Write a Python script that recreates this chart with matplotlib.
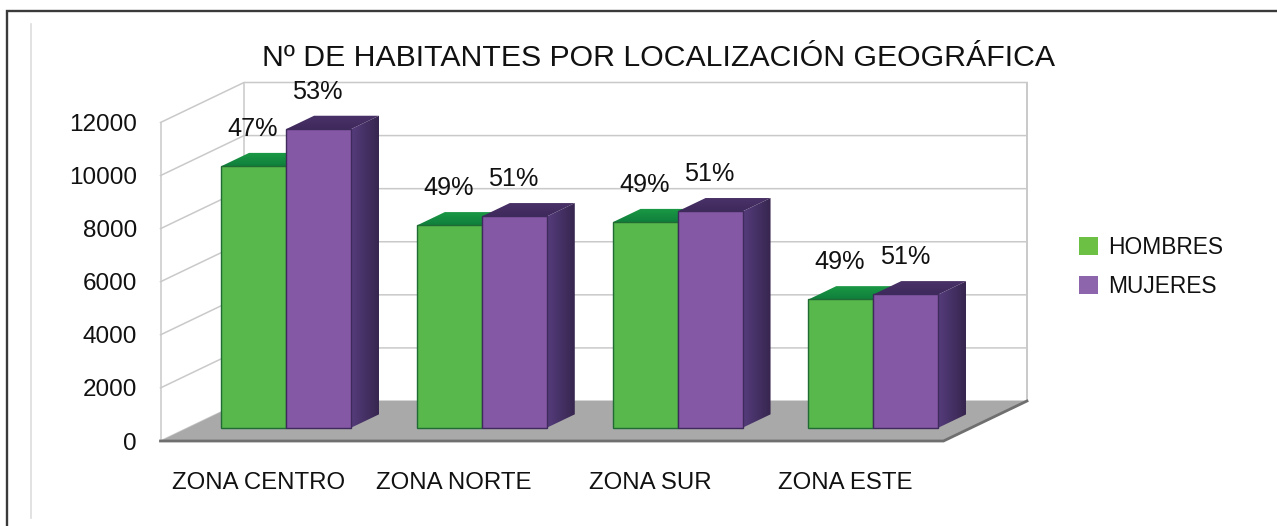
import numpy as np
import matplotlib
matplotlib.use("Agg")
import matplotlib.pyplot as plt
from matplotlib.colors import to_rgb
from matplotlib.lines import Line2D
from matplotlib.patches import Polygon

plt.rcParams['font.family'] = ['Liberation Sans', 'DejaVu Sans']

zonas = ["ZONA CENTRO", "ZONA NORTE", "ZONA SUR", "ZONA ESTE"]
hombres = [9850, 7620, 7740, 4830]
mujeres = [11250, 7960, 8150, 5020]
pct_hombres = ["47%", "49%", "49%", "49%"]
pct_mujeres = ["53%", "51%", "51%", "51%"]
yticks = [0, 2000, 4000, 6000, 8000, 10000, 12000]

W, H = 1277, 526
fig = plt.figure(figsize=(W / 100, H / 100), dpi=100)
# front plane of the fake 3d box, in pixels
left, right, y0, y12 = 160.5, 943.5, 441, 122.5
ax = fig.add_axes([left / W, 1 - y0 / H, (right - left) / W, (y0 - y12) / H])
ax.patch.set_alpha(0)
for s in ax.spines.values():
    s.set_visible(False)

# depth of the box in data units
DX = 83.5 / ((right - left) / 4)
DY = 40 / ((y0 - y12) / 12000)
BAR_W = 65 / ((right - left) / 4)
GRID = "#c9c9c9"

# walls and grid
for v in yticks:
    ax.plot([0, DX, 4 + DX], [v, v + DY, v + DY], color=GRID, lw=1.1, clip_on=False, zorder=1)
ax.plot([0, 0], [0, 12000], color=GRID, lw=1.1, clip_on=False, zorder=1)
ax.plot([DX, DX], [DY, 12000 + DY], color=GRID, lw=1.1, clip_on=False, zorder=1)
ax.plot([4 + DX, 4 + DX], [DY, 12000 + DY], color=GRID, lw=1.4, clip_on=False, zorder=1)

# floor
ax.fill([0, 4, 4 + DX, DX], [0, 0, DY, DY], color="#a9a9a9", lw=0, clip_on=False, zorder=2)
ax.plot([0, 4, 4 + DX], [0, 0, DY], color="#6f6f6f", lw=2, clip_on=False, zorder=2,
        solid_joinstyle="miter")


def gradient_face(xs, ys, c1, c2, vertical, z):
    # polygon filled with a two colour gradient, drawn as a clipped image
    t = np.linspace(0, 1, 32)[:, None]
    img = np.array(to_rgb(c1)) * (1 - t) + np.array(to_rgb(c2)) * t
    img = img[:, None, :] if vertical else img[None, :, :]
    im = ax.imshow(img, extent=[min(xs), max(xs), min(ys), max(ys)], origin="lower",
                   aspect="auto", interpolation="bilinear", zorder=z)
    poly = Polygon(np.column_stack([xs, ys]), transform=ax.transData)
    im.set_clip_box(fig.bbox)
    im.set_clip_path(poly)


def draw_bars(xs, vals, color, edge, top1, top2, side1, side2, label, z):
    d1, d2 = 1 / 3, 2 / 3
    ax.bar(xs + d1 * DX, vals, BAR_W, bottom=d1 * DY, align="edge", color=color,
           edgecolor=edge, lw=1, clip_on=False, zorder=z + 1, label=label)
    for x, v in zip(xs, vals):
        xa, xb = x + d1 * DX, x + d2 * DX
        # top face
        gradient_face([xa, xa + BAR_W, xb + BAR_W, xb],
                      [v + d1 * DY, v + d1 * DY, v + d2 * DY, v + d2 * DY],
                      top1, top2, True, z)
        # side face
        gradient_face([xa + BAR_W, xb + BAR_W, xb + BAR_W, xa + BAR_W],
                      [d1 * DY, d2 * DY, v + d2 * DY, v + d1 * DY],
                      side1, side2, False, z)


centers = np.arange(len(zonas)) + 0.5
# the purple bars sit to the right, so they are drawn over the green ones
draw_bars(centers - BAR_W, hombres, "#58b84b", "#1f6b33", "#0f7f3c", "#1c9a45",
          "#1f7a3a", "#145a2a", "HOMBRES", 3)
draw_bars(centers, mujeres, "#8458a5", "#3f2a5c", "#3f2a5c", "#4a3268",
          "#553c7c", "#37264f", "MUJERES", 6)

for i in range(len(zonas)):
    ax.annotate(pct_hombres[i], (centers[i] - BAR_W / 2 + DX / 3, hombres[i] + DY / 3),
                xytext=(-1, 37.5), textcoords="offset pixels", ha="center", va="center",
                fontsize=18.2, color="#111111", zorder=12, annotation_clip=False)
    ax.annotate(pct_mujeres[i], (centers[i] + BAR_W / 2 + DX / 3, mujeres[i] + DY / 3),
                xytext=(-1, 37.5), textcoords="offset pixels", ha="center", va="center",
                fontsize=18.2, color="#111111", zorder=12, annotation_clip=False)

ax.set_xlim(0, 4)
ax.set_ylim(0, 12000)
ax.set_yticks(yticks)
ax.set_yticklabels([str(v) for v in yticks], fontsize=17.5, color="#111111")
ax.set_xticks(centers)
ax.set_xticklabels(zonas, fontsize=17.3, color="#111111")
ax.tick_params(axis="y", length=0, pad=17)
ax.tick_params(axis="x", length=0, pad=22.2)

fig.text(659 / W, 1 - 57.5 / H, "Nº DE HABITANTES POR LOCALIZACIÓN GEOGRÁFICA", ha="center",
         va="center", fontsize=21.75, color="#111111")

handles, labels = ax.get_legend_handles_labels()
leg = ax.legend(handles, labels, loc="upper left", bbox_to_anchor=(1072 / W, 1 - 229 / H),
                bbox_transform=fig.transFigure, frameon=False, fontsize=16.4, handlelength=0.83,
                handleheight=0.83, handletextpad=0.44, labelspacing=0.7, borderpad=0.3,
                borderaxespad=0)
for p, c in zip(leg.get_patches(), ["#6cc044", "#8c65ac"]):
    p.set_facecolor(c)
    p.set_edgecolor("none")
for t in leg.get_texts():
    t.set_color("#111111")

# page frame and the pale rule inside it
fig.add_artist(Line2D([7 / W, 7 / W, 1], [0, 1 - 11 / H, 1 - 11 / H], color="#3a3a3a", lw=1.7,
                      solid_joinstyle="miter"))
fig.add_artist(Line2D([31 / W, 31 / W], [1 - 518 / H, 1 - 24 / H], color="#dddddd", lw=1.2))

fig.savefig("out.png", dpi=100)
